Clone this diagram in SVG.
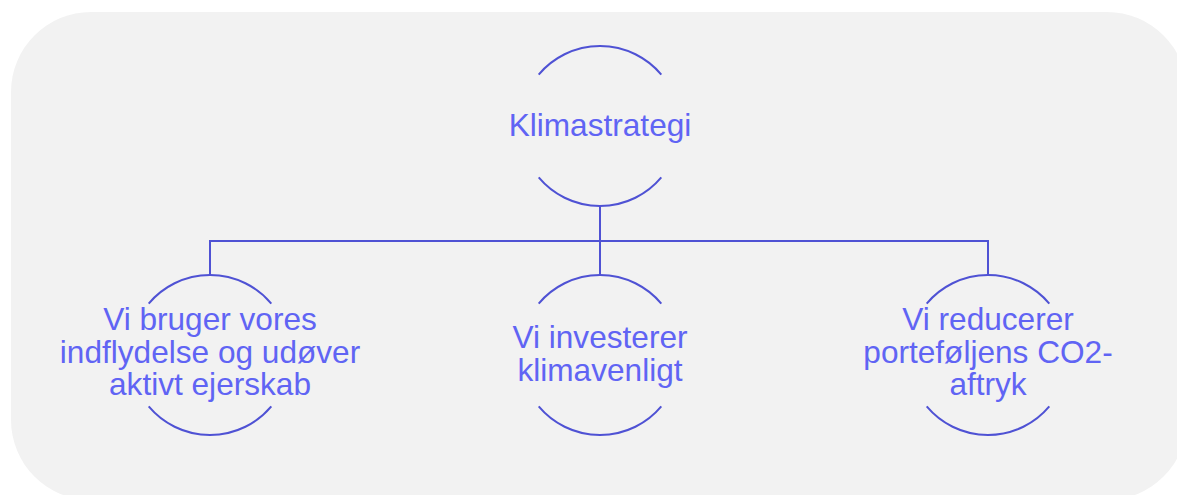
<svg xmlns="http://www.w3.org/2000/svg" width="1177" height="495" viewBox="0 0 1177 495">
<style>
.bg{fill:#f2f2f2}
.arc{fill:none;stroke:#4f52d4;stroke-width:2}
.con{fill:none;stroke:#4f52d4;stroke-width:2}
.lbl{font-family:"Liberation Sans",Arial,sans-serif;font-size:31.6px;fill:#6064f4;text-anchor:middle}
</style>
<rect class="bg" x="11" y="12" width="1176" height="488" rx="80" ry="80"/>
<g id="connectors">
<path class="con" d="M600 206 V275"/>
<path class="con" d="M210 275 V241 H988 V275"/>
</g>
<g id="node-klimastrategi">
<path class="arc" d="M538.7 74.6 A80 80 0 0 1 661.3 74.6"/>
<path class="arc" d="M538.7 177.4 A80 80 0 0 0 661.3 177.4"/>
<text class="lbl" x="600" y="136">Klimastrategi</text>
</g>
<g id="node-indflydelse">
<path class="arc" d="M148.7 303.6 A80 80 0 0 1 271.3 303.6"/>
<path class="arc" d="M148.7 406.4 A80 80 0 0 0 271.3 406.4"/>
<text class="lbl" x="210" y="330"><tspan x="210" y="330">Vi bruger vores</tspan><tspan x="210" y="362.5">indflydelse og udøver</tspan><tspan x="210" y="395">aktivt ejerskab</tspan></text>
</g>
<g id="node-investerer">
<path class="arc" d="M538.7 303.6 A80 80 0 0 1 661.3 303.6"/>
<path class="arc" d="M538.7 406.4 A80 80 0 0 0 661.3 406.4"/>
<text class="lbl" x="600" y="348"><tspan x="600" y="348">Vi investerer</tspan><tspan x="600" y="380.5">klimavenligt</tspan></text>
</g>
<g id="node-co2">
<path class="arc" d="M926.7 303.6 A80 80 0 0 1 1049.3 303.6"/>
<path class="arc" d="M926.7 406.4 A80 80 0 0 0 1049.3 406.4"/>
<text class="lbl" x="988" y="330"><tspan x="988" y="330">Vi reducerer</tspan><tspan x="988" y="362.5">porteføljens CO2-</tspan><tspan x="988" y="395">aftryk</tspan></text>
</g>
</svg>
